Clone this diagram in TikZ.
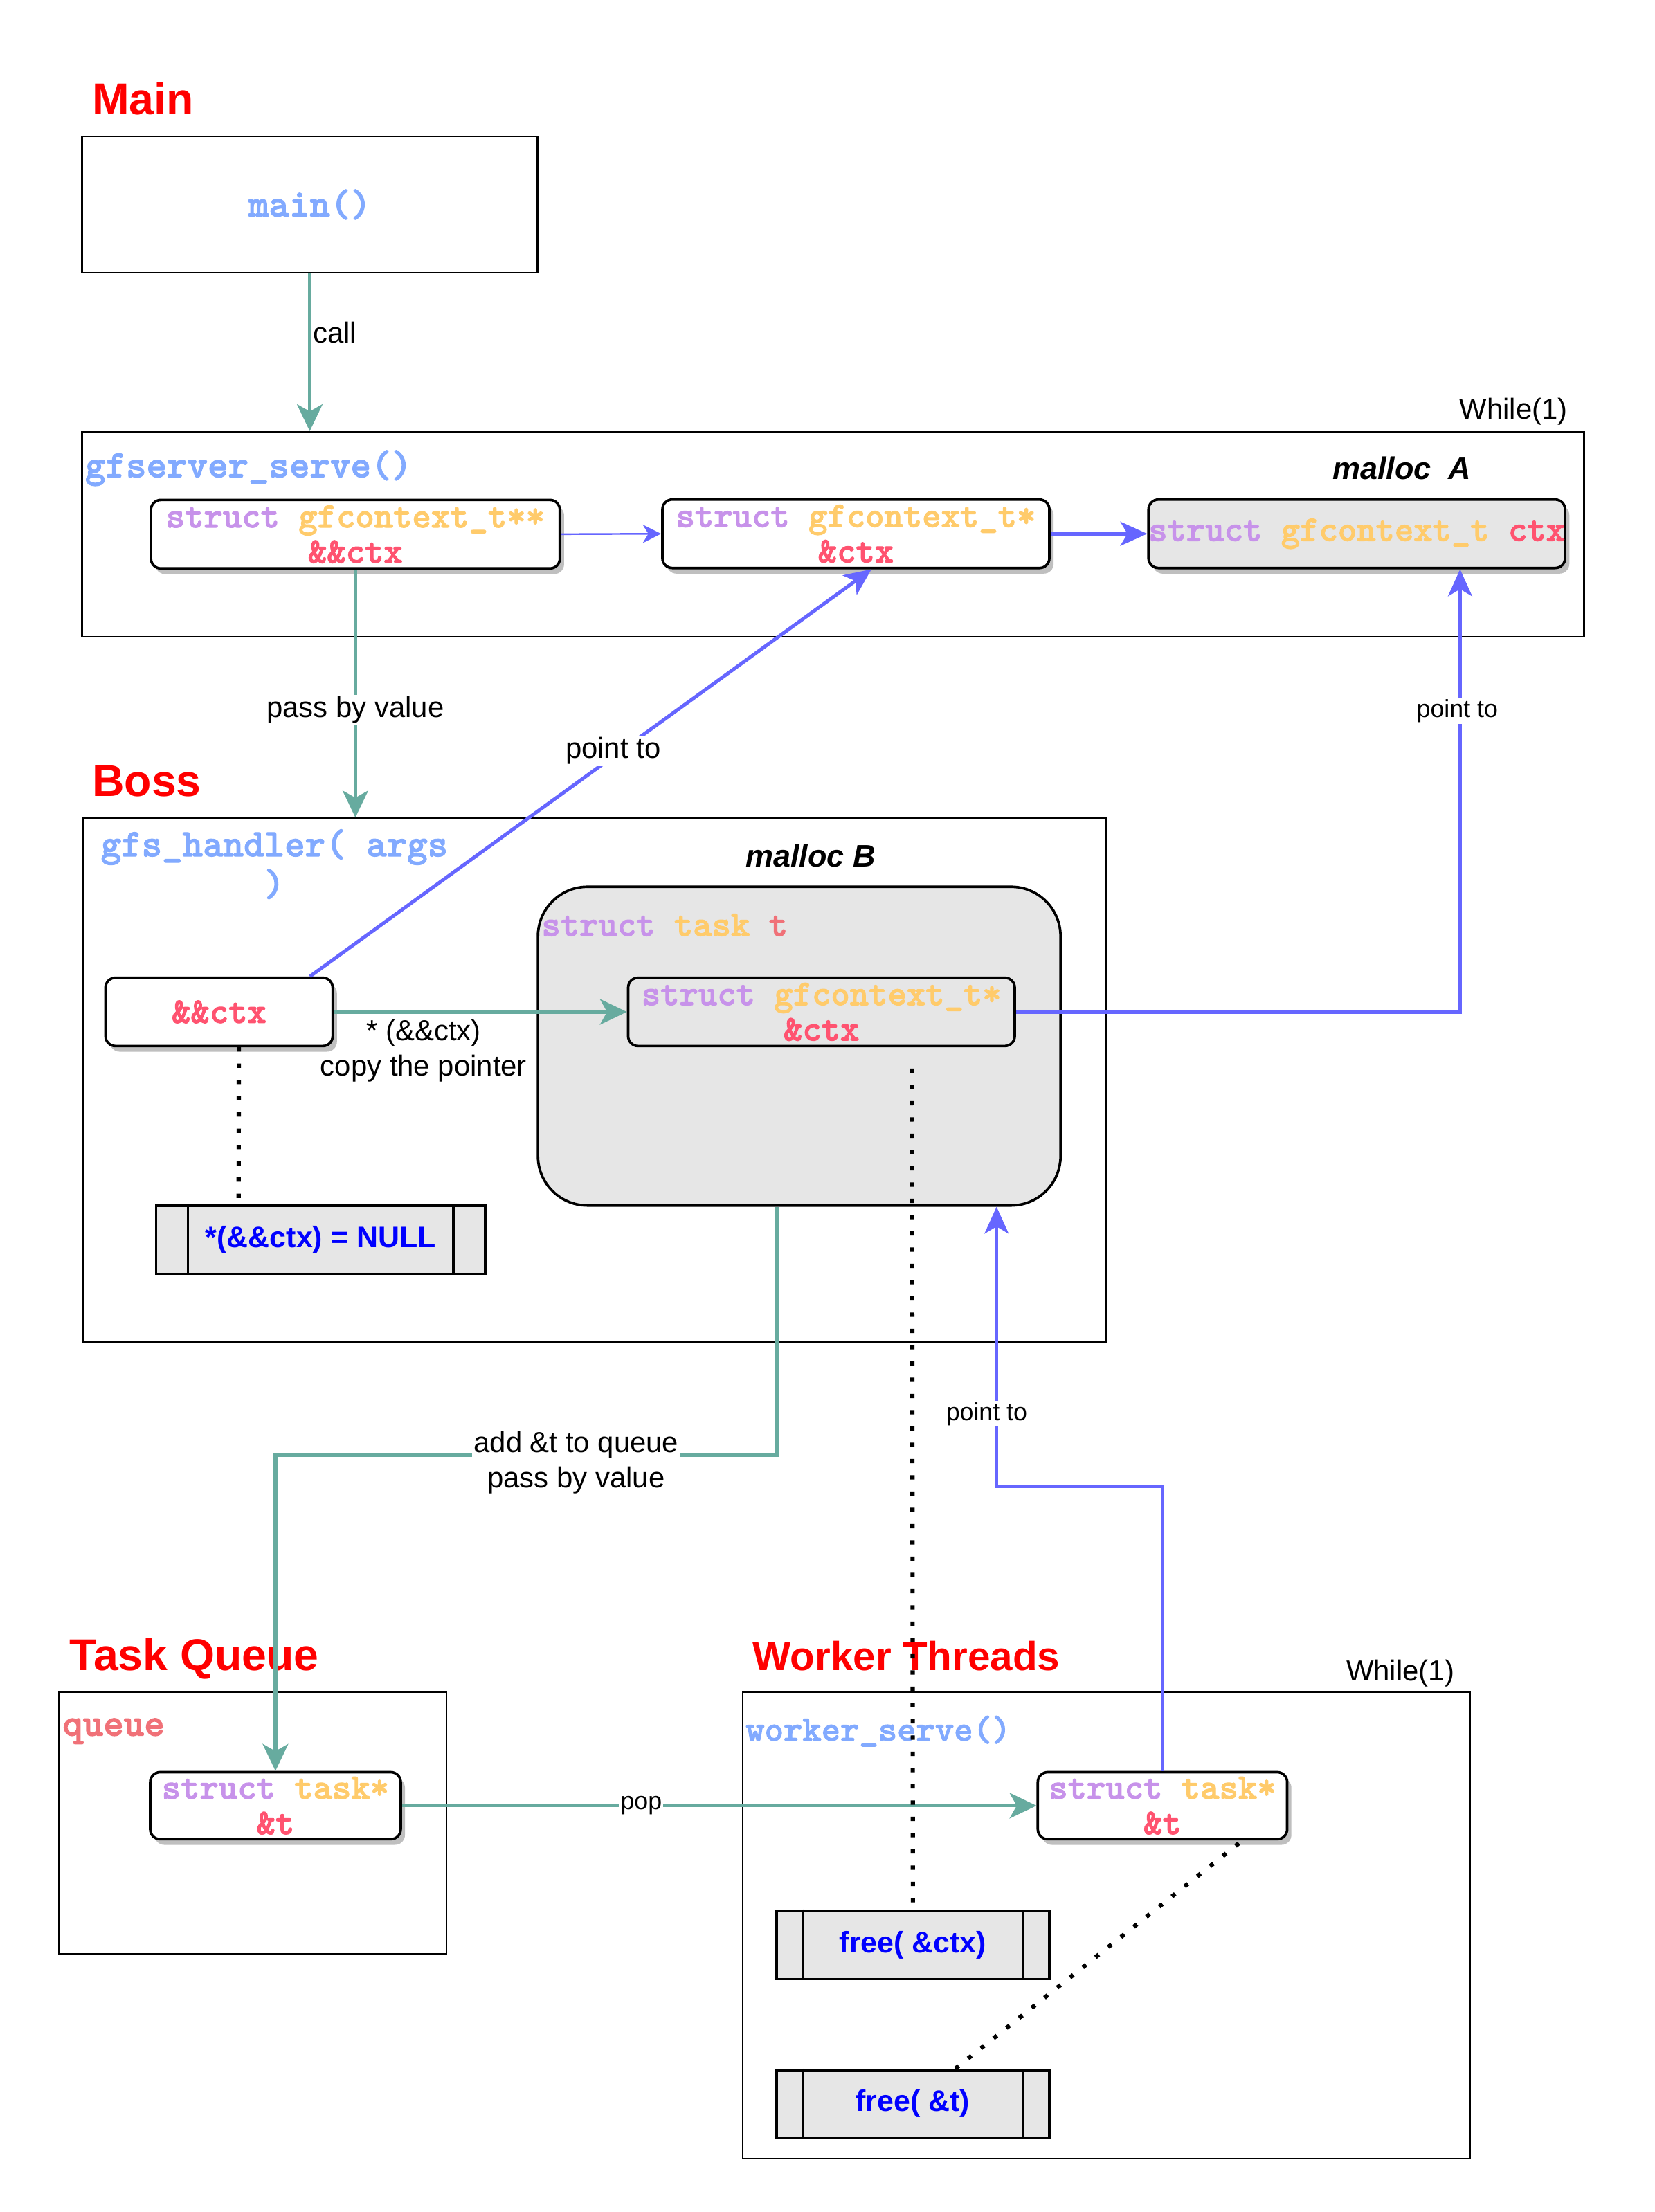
\documentclass[tikz,border=0pt]{standalone}
\usepackage{fontspec}
\setmainfont{Liberation Sans}
\newfontfamily\codefam{lmmonolt10-bold}[Extension=.otf, FakeBold=2]
\usepackage{tikz}
\usetikzlibrary{calc,arrows.meta,shadows}

\definecolor{arrowteal}{HTML}{67AB9F}
\definecolor{arrowblue}{HTML}{6666FF}
\definecolor{kwpurple}{HTML}{C792EA}
\definecolor{typeyellow}{HTML}{FFCB6B}
\definecolor{varred}{HTML}{FF5370}
\definecolor{varsalmon}{HTML}{F07178}
\definecolor{fnblue}{HTML}{82AAFF}
\definecolor{boxgray}{HTML}{E6E6E6}

\newcommand{\codefont}{\codefam\fontsize{25.5}{25}\selectfont}
\newcommand{\bigcodefont}{\codefam\fontsize{27.5}{28}\selectfont}
\newcommand{\ckw}[1]{{\color{kwpurple}#1}}
\newcommand{\cty}[1]{{\color{typeyellow}#1}}
\newcommand{\cvar}[1]{{\color{varred}#1}}
\newcommand{\csal}[1]{{\color{varsalmon}#1}}

\tikzset{
  frame/.style={draw, line width=1.3pt, inner sep=0pt},
  title/.style={anchor=base west, text=red, inner sep=0pt, font=\bfseries\fontsize{31.5}{36}\selectfont},
  codelbl/.style={inner sep=0pt, font=\codefont},
  codebox/.style={draw, line width=1.8pt, rounded corners=7pt, fill=white, inner sep=0pt, align=center, font=\codefont},
  shadowed/.style={drop shadow={shadow xshift=3pt, shadow yshift=-4pt, fill=black!25, opacity=1}},
  procbox/.style={draw, line width=1.8pt, fill=boxgray, inner sep=0pt, text=blue, font=\bfseries\fontsize{21}{24}\selectfont},
  lbl/.style={inner sep=1pt, align=center, font=\fontsize{20.5}{25}\selectfont},
  smalllbl/.style={inner sep=1pt, font=\fontsize{17.5}{21}\selectfont},
  mallocl/.style={inner sep=0pt, font=\bfseries\itshape\fontsize{22}{26}\selectfont},
  tealarrow/.style={draw=arrowteal, line width=2.5pt, -{Stealth[length=19pt,width=18pt,inset=5pt]}},
  bluearrow/.style={draw=arrowblue, line width=2.5pt, -{Stealth[length=19pt,width=17pt,inset=5pt]}},
  thinarrow/.style={draw=arrowblue, line width=1.2pt, -{Stealth[length=13pt,width=13pt,inset=4pt]}},
  dots/.style={line width=3pt, dash pattern=on 3pt off 8.5pt}
}

\begin{document}
\begin{tikzpicture}[x=1pt,y=-1pt]
\useasboundingbox (0,0) rectangle (1170,1564);

% section titles
\node[title] (tmain) at (65,81) {Main};
\node[title] (tboss) at (65,563) {Boss};
\node[title] (tqueue) at (49,1181) {Task Queue};
\node[title, font=\bfseries\fontsize{28.6}{34}\selectfont] (tworker) at (532,1181) {Worker Threads};

% Main
\node[frame, minimum width=322pt, minimum height=96.4pt, font=\bigcodefont, text=fnblue] (mainbox) at (219,144.6) {main()};

% gfserver_serve
\node[frame, minimum width=1062pt, minimum height=144.7pt] (serve) at (589,377.85) {};
\node[codelbl, anchor=west, text=fnblue, font=\bigcodefont] (servelbl) at (60,331) {gfserver\_serve()};
\node[lbl] (while1) at (1070,291) {While(1)};
\node[mallocl] (mallocA) at (991,331) {malloc\ \ A};
\node[codebox, shadowed, minimum width=289.1pt, minimum height=48.4pt] (ctxpp) at (251.25,377.7)
  {\ckw{struct} \cty{gfcontext\_t**}\\\cvar{\&\&ctx}};
\node[codebox, shadowed, minimum width=273.6pt, minimum height=48.4pt] (ctxp) at (605.1,377.4)
  {\ckw{struct} \cty{gfcontext\_t*}\\\cvar{\&ctx}};
\node[codebox, shadowed, fill=boxgray, minimum width=288.5pt, minimum height=48.4pt] (ctxA) at (959.25,377.4)
  {\ckw{struct} \cty{gfcontext\_t} \cvar{ctx}};

% Boss
\node[frame, minimum width=723.2pt, minimum height=369.9pt] (boss) at (420.2,763.65) {};
\node[inner sep=0pt, align=center, text=fnblue, font=\bigcodefont] (handlerlbl) at (194,611) {gfs\_handler( args\\)};
\node[mallocl] (mallocB) at (573,605) {malloc B};
\node[draw, line width=1.8pt, fill=boxgray, rounded corners=35pt, minimum width=369.5pt, minimum height=225.3pt, inner sep=0pt] (taskB) at (565.05,739.65) {};
\node[codelbl, anchor=west] (tasklbl) at (382.7,654) {\ckw{struct} \cty{task} \csal{t}};
\node[codebox, fill=boxgray, minimum width=273.3pt, minimum height=48.3pt] (ctxB) at (580.75,715.45)
  {\ckw{struct} \cty{gfcontext\_t*}\\\cvar{\&ctx}};
\node[codebox, shadowed, minimum width=160.6pt, minimum height=48.3pt] (hctx) at (154.9,715.45) {\cvar{\&\&ctx}};
\node[procbox, minimum width=232.6pt, minimum height=48.3pt] (nullbox) at (226.7,876.45) {*(\&\&ctx) = NULL};

% Task Queue
\node[frame, minimum width=274pt, minimum height=185.1pt] (queue) at (178.6,1288.85) {};
\node[codelbl, anchor=west, text=varsalmon, font=\bigcodefont] (queuelbl) at (44,1224) {queue};
\node[codebox, shadowed, minimum width=177.1pt, minimum height=47.4pt] (qtask) at (194.75,1276.7)
  {\ckw{struct} \cty{task*}\\\cvar{\&t}};

% Worker Threads
\node[frame, minimum width=514.3pt, minimum height=330pt] (worker) at (782.15,1361.3) {};
\node[lbl] (while2) at (990,1183) {While(1)};
\node[codelbl, anchor=west, text=fnblue] (workerlbl) at (527,1224) {worker\_serve()};
\node[codebox, shadowed, minimum width=176.3pt, minimum height=47.4pt] (wtask) at (821.85,1276.7)
  {\ckw{struct} \cty{task*}\\\cvar{\&t}};
\node[procbox, minimum width=192.8pt, minimum height=48.5pt] (freectx) at (645.4,1375.05) {free( \&ctx)};
\node[procbox, minimum width=192.8pt, minimum height=47.8pt] (freet) at (645.4,1487.4) {free( \&t)};

% process box side bars
\draw[line width=1.8pt]
($(nullbox.north west)+(23.3,0)$) -- ($(nullbox.south west)+(23.3,0)$)
($(nullbox.north east)+(-23.3,0)$) -- ($(nullbox.south east)+(-23.3,0)$)
($(freectx.north west)+(19.3,0)$) -- ($(freectx.south west)+(19.3,0)$)
($(freectx.north east)+(-19.3,0)$) -- ($(freectx.south east)+(-19.3,0)$)
($(freet.north west)+(19.3,0)$) -- ($(freet.south west)+(19.3,0)$)
($(freet.north east)+(-19.3,0)$) -- ($(freet.south east)+(-19.3,0)$);

% connectors
\draw[tealarrow] (mainbox.south) -- node[lbl, pos=0.375, anchor=west]{call} (mainbox.south |- serve.north);
\draw[thinarrow] (ctxpp.east) -- (ctxp.west);
\draw[bluearrow] (ctxp.east) -- (ctxA.west);
\draw[tealarrow] (ctxpp.south) -- node[lbl, fill=white, pos=0.565]{pass by value} (ctxpp.south |- boss.north);
\draw[bluearrow] ($(hctx.north east)+(-17,0)$) -- node[lbl, fill=white, pos=0.54, yshift=4pt]{point to} ($(ctxp.south)+(11,0)$);
\draw[bluearrow] (ctxB.east) -| node[smalllbl, fill=white, pos=0.84, xshift=-2pt]{point to} ($(ctxA.south)+(73,0)$);
\draw[tealarrow] (hctx.east) -- node[lbl, anchor=north, pos=0.306, yshift=-3pt]{* (\&\&ctx)\\copy the pointer} (ctxB.west);
\draw[dots] ($(hctx.south)+(14,0)$) -- ($(nullbox.north)+(-58,0)$);

\coordinate (qbend) at (194.75,1029);
\draw[tealarrow] ($(taskB.south)+(-16,0)$) |- node[lbl, fill=white, pos=0.7, yshift=-5pt]{add \&t to queue\\pass by value} (qbend) -- (qtask.north);
\draw[bluearrow] (wtask.north) -- ++(0,-201) -| node[smalllbl, fill=white, pos=0.63, xshift=-7pt]{point to} ($(taskB.south)+(139.5,0)$);
\draw[tealarrow] (qtask.east) -- node[smalllbl, fill=white, pos=0.377]{pop} (wtask.west);
\draw[dots] ($(ctxB.south)+(64,15)$) -- (freectx.north);
\draw[dots] ($(wtask.south)+(54,2)$) -- ($(freet.north)+(30,0)$);
\end{tikzpicture}
\end{document}
